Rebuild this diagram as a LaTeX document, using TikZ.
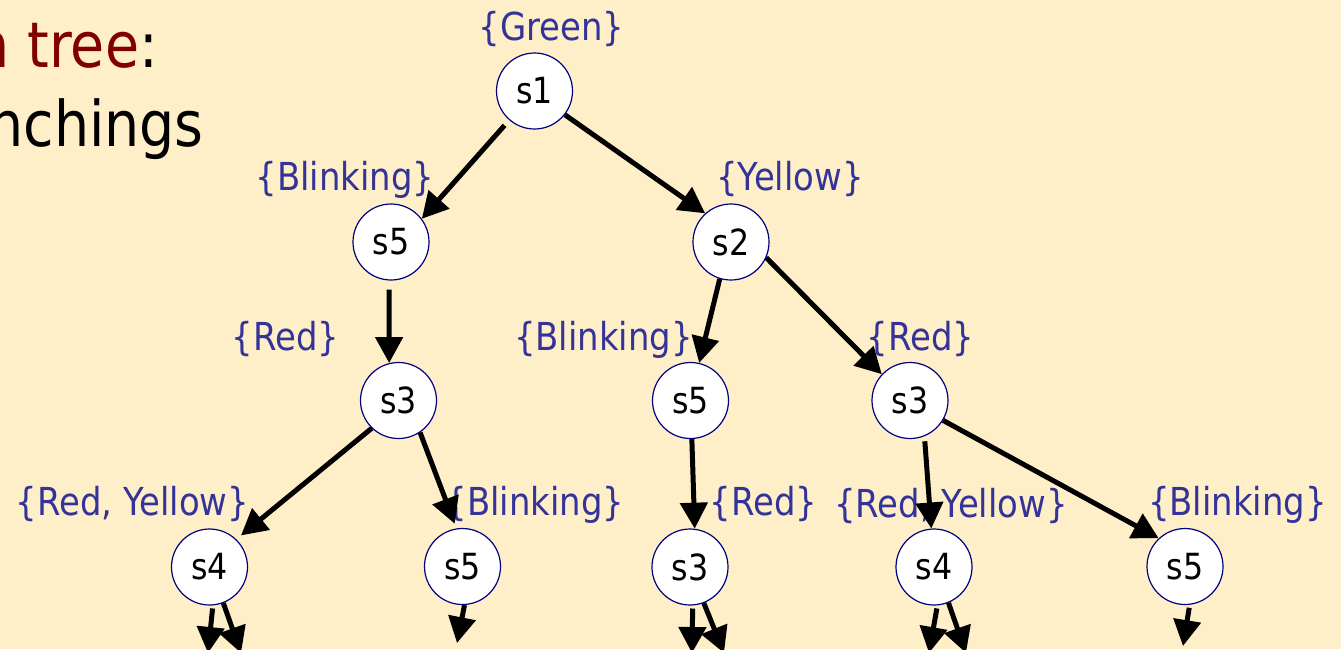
\documentclass[tikz,border=0pt]{standalone}
\usepackage{fontspec}
\setmainfont{DejaVu Sans}[FakeStretch=0.88]
\usetikzlibrary{arrows.meta}
\definecolor{bg}{RGB}{255,239,200}
\definecolor{lbl}{RGB}{51,51,153}
\definecolor{ttl}{RGB}{128,0,0}
\definecolor{ring}{RGB}{0,0,128}
\begin{document}
\begin{tikzpicture}[x=1pt,y=-1pt,
  state/.style={circle, draw=ring, line width=1.2pt, fill=white, minimum size=76pt, inner sep=0pt, font=\fontsize{36}{38}\selectfont},
  lab/.style={text=lbl, anchor=base, inner sep=0pt, font=\fontsize{38.5}{40}\selectfont},
  ttlstyle/.style={anchor=base east, inner sep=0pt, font=\fontsize{63}{65}\selectfont},
  arr/.style={line width=5pt, -{Triangle[length=26pt,width=27pt]}}]
\useasboundingbox (0,0) rectangle (1341,649);
\fill[bg] (0,0) rectangle (1341,649);
\clip (0,0) rectangle (1341,649);

% title fragments
\node[ttlstyle] (t1) at (158,67) {\textcolor{ttl}{n tree}:};
\node[ttlstyle] (t2) at (204,146) {nchings};

% labels
\node[lab] (L1) at (551.5,40) {\{Green\}};
\node[lab] (L5a) at (345,190) {\{Blinking\}};
\node[lab] (L2) at (790,190) {\{Yellow\}};
\node[lab] (L3a) at (285.5,350) {\{Red\}};
\node[lab] (L5b) at (603.5,350) {\{Blinking\}};
\node[lab] (L3b) at (920.5,350) {\{Red\}};
\node[lab] (L4a) at (132.5,515) {\{Red, Yellow\}};
\node[lab] (L5c) at (535,515) {\{Blinking\}};
\node[lab] (L3c) at (763.5,515) {\{Red\}};
\node[lab] (L4b) at (951,517) {\{Red, Yellow\}};
\node[lab] (L5d) at (1237.5,515) {\{Blinking\}};

% states
\node[state] (n1) at (534.5,91) {s1};
\node[state] (n5a) at (391,242) {s5};
\node[state] (n2) at (731,242) {s2};
\node[state] (n3a) at (398.5,400.5) {s3};
\node[state] (n5b) at (690.5,400.5) {s5};
\node[state] (n3b) at (910,400.5) {s3};
\node[state] (n4a) at (209.5,567) {s4};
\node[state] (n5c) at (462.5,566.5) {s5};
\node[state] (n3c) at (690,567) {s3};
\node[state] (n4b) at (934,567) {s4};
\node[state] (n5d) at (1185,566.5) {s5};

% free ends at the bottom
\coordinate (e1) at (208,653);
\coordinate (e2) at (241,653);
\coordinate (e3) at (457,643);
\coordinate (e4) at (692,653);
\coordinate (e5) at (724,653);
\coordinate (e6) at (929,653);
\coordinate (e7) at (966,653);
\coordinate (e8) at (1183,646);

% transitions
\draw[arr, shorten <=7pt] (n1.-131) -- (n5a.37);
\draw[arr] (n1.-38) -- (n2.132);
\draw[arr, shorten <=9pt] (n5a.-93) -- (n3a.104);
\draw[arr] (n2.-107) -- (n5b.77);
\draw[arr] (n2.-24) -- (n3b.137);
\draw[arr, shorten >=6pt] (n3a.-134) -- (n4a.46);
\draw[arr, shorten >=5pt] (n3a.-56) -- (n5c.99);
\draw[arr] (n5b.-88) -- (n3c.83);
\draw[arr, shorten <=5pt] (n3b.-68) -- (n4b.94);
\draw[arr] (n3b.-31) -- (n5d.133);

\draw[arr, shorten <=3pt] (n4a.-85) -- (e1);
\draw[arr] (n4a.-69) -- (e2);
\draw[arr] (n5c.-87) -- (e3);
\draw[arr, shorten <=3pt] (n3c.-86) -- (e4);
\draw[arr] (n3c.-69) -- (e5);
\draw[arr, shorten <=3pt] (n4b.-85) -- (e6);
\draw[arr] (n4b.-68) -- (e7);
\draw[arr, shorten <=3pt] (n5d.-83) -- (e8);
\end{tikzpicture}
\end{document}
